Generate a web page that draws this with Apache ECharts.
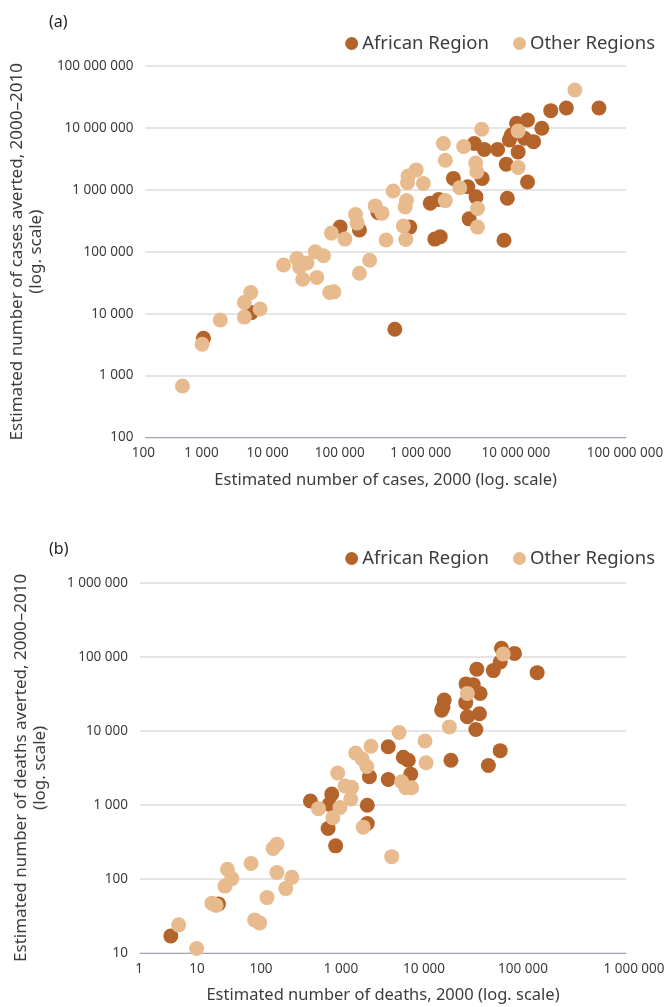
<!DOCTYPE html>
<html>
<head>
<meta charset="utf-8">
<script src="https://cdn.jsdelivr.net/npm/echarts@6/dist/echarts.min.js"></script>
<style>
html,body{margin:0;padding:0;background:#fff;}
#chart{width:670px;height:1007px;}
</style>
</head>
<body>
<div id="chart"></div>
<script>
// ---- Panel (a): cases ----
const casesAfrX = [46000000,18000000,11500000,8900000,5900000,4300000,3700000,3500000,5400000,7000000,2500000,4500000,3200000,5900000,3300000,3000000,1280000,1700000,1600000,700000,1060000,1340000,1100000,460000,360000,480000,410000,200000,130000,80000,47000,27000,2100,530];
const casesAfrY = [21000000,21000000,19000000,9900000,13400000,11900000,7700000,6400000,6800000,6000000,4500000,4100000,2600000,1340000,730000,153000,5600000,4500000,1530000,1530000,1120000,770000,340000,700000,610000,175000,160000,250000,5600,430000,224000,250000,10400,4000];
const casesOthX = [23000000,4500000,4500000,1580000,940000,525000,555000,1330000,1370000,840000,555000,1400000,1400000,240000,190000,187000,295000,124000,182000,175000,166000,178000,101000,74000,90000,42000,44000,21000,31000,13200,16700,7800,5300,10400,8400,9200,13800,20000,22500,47000,63000,2070,1720,1720,2700,860,510,290];
const casesOthY = [41000000,8900000,2300000,9500000,5000000,5600000,3000000,2700000,1960000,1080000,670000,500000,250000,2100000,1670000,1300000,1270000,960000,670000,530000,260000,158000,155000,550000,420000,400000,290000,200000,160000,100000,86000,78000,61000,66000,57000,36000,38500,22000,22500,45000,73000,22000,15200,8800,11900,7900,3200,680];

// ---- Panel (b): deaths ----
const deathsAfrX = [29000,42000,28000,23000,80000,14400,10600,13000,15800,10500,5700,5500,5300,15500,11000,14000,1160,28000,6900,1780,2050,20000,2200,1160,680,127,233,217,640,210,640,260,9.3,2.4];
const deathsAfrY = [130000,111000,85000,65000,61000,68000,43000,42000,32000,24000,26000,21000,19000,17000,15500,10400,6100,5400,4000,4400,4000,3400,2600,2200,2400,1130,1400,1020,990,480,560,280,46,17];
const deathsOthX = [30500,11000,6600,1580,3300,3400,1700,1920,2260,710,460,550,630,276,340,410,400,160,294,240,570,1280,49,44,23.5,12,13.6,11.2,49,75,63,37,7.7,8.7,26,30,3,5];
const deathsOthY = [109000,32000,11300,9500,7300,3700,2050,1700,1700,6200,5000,4200,3300,2700,1800,1730,1200,890,920,670,500,200,295,258,162,135,101,80,122,105,74,56,47,44,28,25.5,24,11.5];

const seriesNames = ['African Region', 'Other Regions'];
const panelLabels = ['(a)', '(b)'];
const xTitles = ['Estimated number of cases, 2000 (log. scale)', 'Estimated number of deaths, 2000 (log. scale)'];
const yTitles = ['Estimated number of cases averted, 2000\u20132010\n(log. scale)', 'Estimated number of deaths averted, 2000\u20132010\n(log. scale)'];

const DARK = '#B4642B';
const LIGHT = '#E8BB8F';
const TXT = '#3c3c3c';
const FONT = '"Noto Sans", sans-serif';

function pairs(xs, ys) { return xs.map((x, i) => [x, ys[i]]); }
function fmt(v) { return String(Math.round(v)).replace(/\B(?=(\d{3})+(?!\d))/g, ' '); }

const chart = echarts.init(document.getElementById('chart'), null, {renderer: 'canvas'});

// horizontal nudges of the x tick labels (the source spreads them evenly as text)
const xLabelShift = [[-2, -24, -38, -46, -45, -30, -1], [-1, -24, -41, -42, -40, -22, 8]];

function xAxis(idx, min, max) {
  const minExp = Math.round(Math.log10(min));
  const rich = {};
  xLabelShift[idx].forEach((off, k) => {
    rich['s' + k] = {
      fontFamily: FONT, fontSize: 13.5, color: TXT,
      padding: off >= 0 ? [0, 0, 0, 2 * off] : [0, -2 * off, 0, 0]
    };
  });
  return {
    type: 'log', logBase: 10, gridIndex: idx, min: min, max: max,
    name: xTitles[idx], nameLocation: 'middle', nameGap: 34,
    nameTextStyle: {fontFamily: FONT, fontSize: 16.5, color: TXT},
    axisLine: {show: true, lineStyle: {color: '#A3A3B3', width: 1}},
    axisTick: {show: false}, minorTick: {show: false},
    splitLine: {show: false},
    axisLabel: {
      fontFamily: FONT, fontSize: 13.5, color: TXT, margin: 9,
      showMinLabel: true, showMaxLabel: true, rich: rich,
      formatter: v => '{s' + (Math.round(Math.log10(v)) - minExp) + '|' + fmt(v) + '}'
    }
  };
}
function yAxis(idx, min, max) {
  return {
    type: 'log', logBase: 10, gridIndex: idx, min: min, max: max,
    name: yTitles[idx], nameLocation: 'middle', nameGap: 90, nameRotate: 90,
    nameTextStyle: {fontFamily: FONT, fontSize: 17, color: TXT, lineHeight: 19, align: 'center'},
    axisLine: {show: false}, axisTick: {show: false},
    splitLine: {show: true, lineStyle: {color: '#DCDCDC', width: 1.5}},
    axisLabel: {fontFamily: FONT, fontSize: 13.5, color: TXT, margin: 12, formatter: fmt}
  };
}
function scatter(name, idx, data, color) {
  return {
    name: name, type: 'scatter', xAxisIndex: idx, yAxisIndex: idx,
    data: data, symbol: 'circle', symbolSize: 15,
    itemStyle: {color: color, opacity: 1},
    emphasis: {disabled: true}, animation: false
  };
}
function legend(top) {
  return {
    top: top, right: 10, icon: 'circle', itemWidth: 13, itemHeight: 13, itemGap: 24,
    textStyle: {fontFamily: FONT, fontSize: 18.5, color: TXT, padding: [0, 0, 0, -1]},
    data: seriesNames
  };
}

chart.setOption({
  backgroundColor: '#fff',
  animation: false,
  title: [
    {text: panelLabels[0], left: 44, top: 9, textStyle: {fontFamily: FONT, fontSize: 16, fontWeight: 'normal', color: '#222'}},
    {text: panelLabels[1], left: 44, top: 536, textStyle: {fontFamily: FONT, fontSize: 16, fontWeight: 'normal', color: '#222'}}
  ],
  legend: [legend(29), legend(544)],
  grid: [
    {left: 140, top: 66, width: 486, height: 371.5, containLabel: false},
    {left: 140, top: 582.7, width: 486, height: 370.3, containLabel: false}
  ],
  xAxis: [xAxis(0, 100, 100000000), xAxis(1, 1, 1000000)],
  yAxis: [yAxis(0, 100, 100000000), yAxis(1, 10, 1000000)],
  series: [
    scatter(seriesNames[0], 0, pairs(casesAfrX, casesAfrY), DARK),
    scatter(seriesNames[1], 0, pairs(casesOthX, casesOthY), LIGHT),
    scatter(seriesNames[0], 1, pairs(deathsAfrX, deathsAfrY), DARK),
    scatter(seriesNames[1], 1, pairs(deathsOthX, deathsOthY), LIGHT)
  ]
});
</script>
</body>
</html>
